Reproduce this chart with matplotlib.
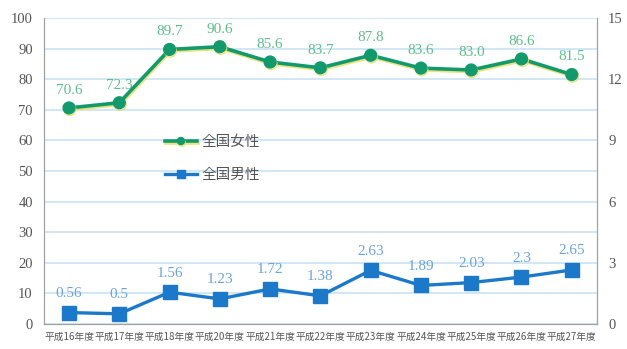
import matplotlib
matplotlib.use("Agg")
import matplotlib.pyplot as plt
import matplotlib.patheffects as pe

years = ["平成16年度", "平成17年度", "平成18年度", "平成20年度", "平成21年度", "平成22年度",
         "平成23年度", "平成24年度", "平成25年度", "平成26年度", "平成27年度"]
female = [70.6, 72.3, 89.7, 90.6, 85.6, 83.7, 87.8, 83.6, 83.0, 86.6, 81.5]
female_labels = ["70.6", "72.3", "89.7", "90.6", "85.6", "83.7", "87.8", "83.6", "83.0", "86.6", "81.5"]
male = [0.56, 0.5, 1.56, 1.23, 1.72, 1.38, 2.63, 1.89, 2.03, 2.3, 2.65]
male_labels = ["0.56", "0.5", "1.56", "1.23", "1.72", "1.38", "2.63", "1.89", "2.03", "2.3", "2.65"]

GREEN = "#139a6c"
GREEN_TXT = "#5cbf8a"
BLUE = "#1c78c8"
BLUE_TXT = "#6aa3dc"
GRID = "#c9e3f5"
AXIS = "#a0a0a0"
NUMFONT = ["Liberation Serif", "DejaVu Serif"]
CJK = ["Noto Sans CJK JP", "DejaVu Sans"]

fig = plt.figure(figsize=(6.27, 3.49), dpi=100)
ax = fig.add_axes([0.070, 0.0716, 0.882, 0.877])
ax2 = ax.twinx()

x = list(range(len(years)))

ax.set_ylim(0, 100)
ax.set_yticks(range(0, 101, 10))
ax.set_xlim(-0.5, len(years) - 0.5)
ax.grid(axis="y", color=GRID, linewidth=1.2)
ax.set_axisbelow(True)
ax2.set_ylim(0, 15)
ax2.set_yticks(range(0, 16, 3))

for a in (ax, ax2):
    a.spines["top"].set_visible(False)
    a.spines["left"].set_color(AXIS)
    a.spines["right"].set_color(AXIS)
    a.spines["bottom"].set_color(AXIS)
    a.tick_params(axis="y", length=0, colors="#555555", labelsize=10.5, pad=8)
    for lbl in a.get_yticklabels():
        lbl.set_family(NUMFONT)

ax.set_xticks(x)
ax.set_xticklabels(years, fontsize=7, family=CJK, color="#555555")
ax.tick_params(axis="x", length=0, pad=6)

# faint yellow edge under the green line
shadow = [pe.SimpleLineShadow(offset=(0.6, -1.2), shadow_color="#e8e070", alpha=0.9), pe.Normal()]
ax.plot(x, female, color=GREEN, linewidth=2.6, marker="o", markersize=8.5,
        label="全国女性", path_effects=shadow, zorder=4)
ax2.plot(x, male, color=BLUE, linewidth=2.4, marker="s", markersize=10,
         label="全国男性", zorder=4)

for xi, v, t in zip(x, female, female_labels):
    ax.annotate(t, (xi, v), xytext=(0, 8), textcoords="offset points", ha="center",
                va="bottom", color=GREEN_TXT, fontsize=11, family=NUMFONT)
for xi, v, t in zip(x, male, male_labels):
    ax2.annotate(t, (xi, v), xytext=(0, 9), textcoords="offset points", ha="center",
                 va="bottom", color=BLUE_TXT, fontsize=11, family=NUMFONT)

h1, l1 = ax.get_legend_handles_labels()
h2, l2 = ax2.get_legend_handles_labels()
leg = ax2.legend(h1 + h2, l1 + l2, loc="upper left", bbox_to_anchor=(0.195, 0.66),
                 frameon=False, prop={"family": CJK, "size": 10.5}, labelspacing=1.3,
                 handlelength=2.2, handletextpad=0.3, markerscale=0.6)
for t in leg.get_texts():
    t.set_color("#555555")

fig.savefig("out.png", dpi=100)
